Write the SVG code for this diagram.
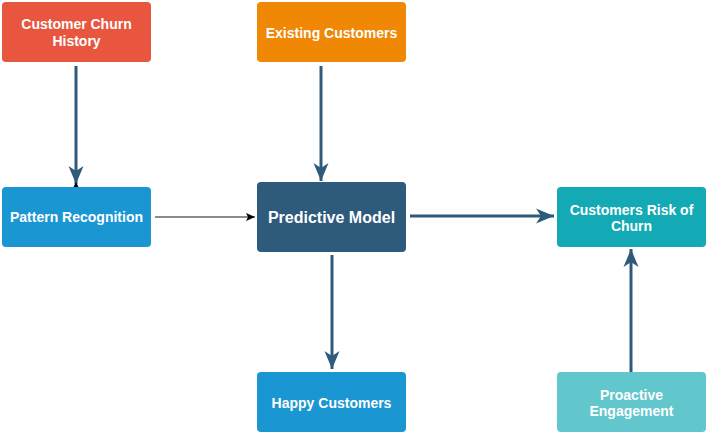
<svg xmlns="http://www.w3.org/2000/svg" width="708" height="433" viewBox="0 0 708 433">
<defs>
<style>
.lbl{font-family:"Liberation Sans",Arial,sans-serif;font-weight:bold;font-size:14px;fill:#fff;text-anchor:middle}
.big{font-size:16px}
.thick{stroke:#2e5a7c;stroke-width:3;fill:none}
.thin{stroke:#666;stroke-width:1.5;fill:none}
</style>
<marker id="ah" markerUnits="userSpaceOnUse" markerWidth="20" markerHeight="16" refX="18" refY="8" orient="auto" viewBox="0 0 20 16">
<path d="M0,0.5 L18,8 L0,15.5 L5,8 Z" fill="#2e5a7c"/>
</marker>
<marker id="ahs" markerUnits="userSpaceOnUse" markerWidth="10" markerHeight="10" refX="9" refY="5" orient="auto" viewBox="0 0 10 10">
<path d="M0,1 L9,5 L0,9 L2,5 Z" fill="#000"/>
</marker>
</defs>
<rect width="708" height="433" fill="#fff"/>
<g id="connectors">
<line class="thick" x1="76" y1="66" x2="76" y2="184" marker-end="url(#ah)"/>
<path d="M73.5,187 L76,182 L78.5,187 Z" fill="#000"/>
<line class="thin" x1="155" y1="217" x2="255" y2="217" marker-end="url(#ahs)"/>
<line class="thick" x1="321" y1="66" x2="321" y2="181" marker-end="url(#ah)"/>
<line class="thick" x1="410" y1="216" x2="554" y2="216" marker-end="url(#ah)"/>
<line class="thick" x1="332" y1="255" x2="332" y2="369" marker-end="url(#ah)"/>
<line class="thick" x1="631" y1="372" x2="631" y2="249" marker-end="url(#ah)"/>
</g>
<g id="customer-churn-history">
<rect x="2" y="2" width="149" height="60" rx="4" fill="#e8563f"/>
<text class="lbl" x="76.5" y="29">Customer Churn</text>
<text class="lbl" x="76.5" y="46">History</text>
</g>
<g id="existing-customers">
<rect x="257" y="2" width="149" height="60" rx="4" fill="#f08705"/>
<text class="lbl" x="331.5" y="38">Existing Customers</text>
</g>
<g id="pattern-recognition">
<rect x="2" y="187" width="149" height="60" rx="4" fill="#1a96d3"/>
<text class="lbl" x="76.5" y="222">Pattern Recognition</text>
</g>
<g id="predictive-model">
<rect x="257" y="182" width="149" height="70" rx="4" fill="#2e5a7c"/>
<text class="lbl big" x="331.5" y="223">Predictive Model</text>
</g>
<g id="customers-risk-of-churn">
<rect x="557" y="187" width="149" height="60" rx="4" fill="#13aab5"/>
<text class="lbl" x="631.5" y="215">Customers Risk of</text>
<text class="lbl" x="631.5" y="231">Churn</text>
</g>
<g id="happy-customers">
<rect x="257" y="372" width="149" height="60" rx="4" fill="#1a96d3"/>
<text class="lbl" x="331.5" y="408">Happy Customers</text>
</g>
<g id="proactive-engagement">
<rect x="557" y="372" width="149" height="60" rx="4" fill="#62c6cd"/>
<text class="lbl" x="631.5" y="400">Proactive</text>
<text class="lbl" x="631.5" y="416">Engagement</text>
</g>
</svg>
